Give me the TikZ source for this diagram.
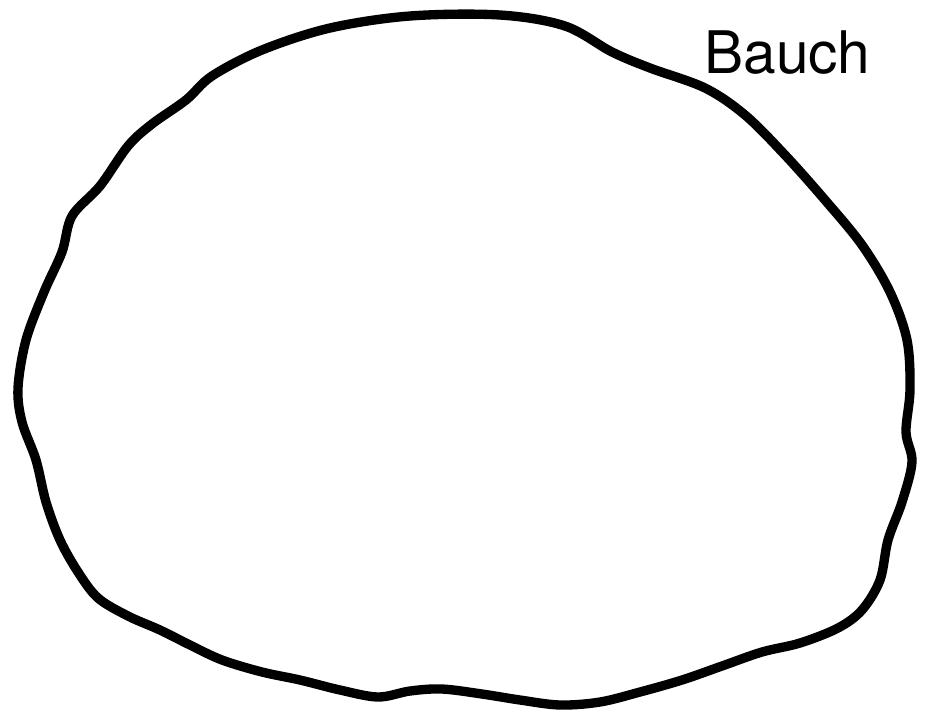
\documentclass[tikz,border=0pt]{standalone}
\usepackage{fontspec}
\setmainfont{TeX Gyre Heros}
\begin{document}
\begin{tikzpicture}[x=0.75pt,y=-0.75pt,
  outline/.style={line width=7pt,line join=round,line cap=round,black},
  lbl/.style={font=\fontsize{44}{50}\selectfont,inner sep=0pt,anchor=base west}]
\useasboundingbox (0,0) rectangle (938,722);
\draw[outline] plot[smooth cycle,tension=0.55] coordinates {
 (212,76) (262,50) (330,28) (410,16) (500,15) (565,26) (612,52) (650,68)
 (705,88) (745,115) (785,155) (825,200) (862,245) (890,292) (907,340)
 (910,390) (906,432) (912,462) (902,502) (888,540) (880,580) (862,610)
 (838,628) (800,643) (762,652) (722,666) (682,680) (640,692) (600,702)
 (560,705) (520,700) (482,694) (442,689) (410,691) (378,697) (340,690)
 (300,680) (262,672) (222,660) (190,645) (160,630) (128,616) (98,598)
 (78,572) (60,540) (46,502) (36,460) (22,422) (18,388) (26,340) (44,292)
 (62,252) (72,216) (100,186) (128,146) (152,124) (186,100)};
\node[lbl] (bauch) at (704,73) {Bauch};
\end{tikzpicture}
\end{document}
